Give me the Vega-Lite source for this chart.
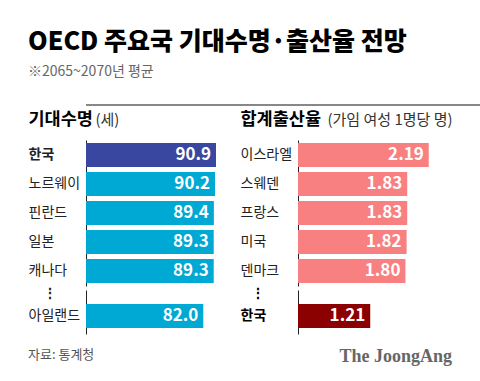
{
  "$schema": "https://vega.github.io/schema/vega-lite/v6.json",
  "background": "white",
  "padding": {"left": 28, "top": 30, "right": 10, "bottom": 10},
  "config": {
    "font": "Noto Sans CJK KR",
    "view": {"stroke": null},
    "axis": {"labelFont": "Noto Sans CJK KR", "titleFont": "Noto Sans CJK KR"}
  },
  "title": {
    "text": "OECD 주요국 기대수명·출산율 전망",
    "subtitle": "※2065~2070년 평균",
    "anchor": "start",
    "frame": "bounds",
    "fontSize": 25,
    "fontWeight": 900,
    "color": "#000000",
    "subtitleFontSize": 14,
    "subtitleColor": "#666666",
    "subtitlePadding": 10,
    "offset": 25
  },
  "datasets": {
    "life": [
      {"country": "한국", "value": 90.9},
      {"country": "노르웨이", "value": 90.2},
      {"country": "핀란드", "value": 89.4},
      {"country": "일본", "value": 89.3},
      {"country": "캐나다", "value": 89.3}
    ],
    "lifeOther": [
      {"country": "아일랜드", "value": 82.0}
    ],
    "fert": [
      {"country": "이스라엘", "value": 2.19},
      {"country": "스웨덴", "value": 1.83},
      {"country": "프랑스", "value": 1.83},
      {"country": "미국", "value": 1.82},
      {"country": "덴마크", "value": 1.80}
    ],
    "fertOther": [
      {"country": "한국", "value": 1.21}
    ],
    "line": [{"a": 0, "b": 1}]
  },
  "spacing": 4,
  "vconcat": [
    {
      "data": {"name": "line"},
      "width": 421,
      "height": 1,
      "mark": {"type": "rule", "color": "#111111", "strokeWidth": 1},
      "encoding": {
        "x": {"field": "a", "type": "quantitative", "scale": {"domain": [0, 1]}, "axis": null},
        "x2": {"field": "b"},
        "y": {"datum": 0, "type": "quantitative", "scale": {"domain": [0, 1]}, "axis": null}
      }
    },
    {
      "spacing": 24,
      "hconcat": [
        {
          "spacing": 0,
          "vconcat": [
            {
              "data": {"name": "life"},
              "width": 130,
              "height": 146,
              "encoding": {
                "y": {
                  "field": "country", "type": "nominal", "sort": null,
                  "scale": {"paddingInner": 0.17, "paddingOuter": 0.1},
                  "axis": {
                    "title": "기대수명", "titleAngle": 0, "titleAlign": "left", "titleBaseline": "alphabetic",
                    "titleX": -58, "titleY": -16, "titleFontSize": 17.5, "titleFontWeight": "bold", "titleColor": "#000000",
                    "labelAlign": "left", "labelPadding": 58, "labelFontSize": 14, "labelColor": "#222222",
                    "labelFontWeight": {"condition": {"test": "datum.value === '한국'", "value": "bold"}, "value": "normal"},
                    "ticks": false, "domainColor": "#222222", "domainWidth": 1, "labelBaseline": "middle"
                  }
                },
                "x": {
                  "field": "value", "type": "quantitative",
                  "scale": {"domain": [0, 90.9], "nice": false},
                  "axis": {
                    "orient": "top", "title": "(세)", "labels": false, "ticks": false, "domain": false, "grid": false,
                    "titleX": 9, "titleY": -16, "titleAlign": "left", "titleBaseline": "alphabetic",
                    "titleFontSize": 15, "titleFontWeight": "normal", "titleColor": "#333333"
                  }
                }
              },
              "layer": [
                {"mark": {"type": "bar", "height": 24},
                 "encoding": {"color": {"condition": {"test": "datum.country === '한국'", "value": "#3a47a0"}, "value": "#00a8d4"}}},
                {"mark": {"type": "text", "align": "right", "dx": -5, "color": "white", "fontSize": 17, "fontWeight": "bold", "baseline": "middle"},
                 "encoding": {"text": {"field": "value", "type": "quantitative", "format": ".1f"}}}
              ]
            },
            {
              "data": {"name": "lifeOther"},
              "width": 130,
              "height": 44,
              "title": {"text": "자료: 통계청", "orient": "bottom", "anchor": "start", "frame": "bounds", "fontSize": 13, "fontWeight": "normal", "color": "#555555", "offset": 15},
              "encoding": {
                "y": {
                  "field": "country", "type": "nominal",
                  "scale": {"domain": ["gap", "아일랜드"], "paddingInner": 0.6, "paddingOuter": 0.32, "align": 0},
                  "axis": {
                    "title": null, "labelAlign": "left", "labelFontSize": 14, "labelColor": "#222222",
                    "labelPadding": {"condition": {"test": "datum.value === 'gap'", "value": 44}, "value": 58},
                    "labelFontWeight": {"condition": {"test": "datum.value === 'gap'", "value": "bold"}, "value": "normal"},
                    "labelExpr": "datum.value === 'gap' ? '⋮' : datum.value",
                    "ticks": false, "domainColor": "#222222", "domainWidth": 1, "labelBaseline": "middle"
                  }
                },
                "x": {"field": "value", "type": "quantitative", "scale": {"domain": [0, 90.9], "nice": false}, "axis": null}
              },
              "layer": [
                {"mark": {"type": "bar", "height": 24, "color": "#00a8d4"}},
                {"mark": {"type": "text", "align": "right", "dx": -5, "color": "white", "fontSize": 17, "fontWeight": "bold", "baseline": "middle"},
                 "encoding": {"text": {"field": "value", "type": "quantitative", "format": ".1f"}}}
              ]
            }
          ]
        },
        {
          "spacing": 0,
          "vconcat": [
            {
              "data": {"name": "fert"},
              "width": 154,
              "height": 146,
              "encoding": {
                "y": {
                  "field": "country", "type": "nominal", "sort": null,
                  "scale": {"paddingInner": 0.17, "paddingOuter": 0.1},
                  "axis": {
                    "title": "합계출산율", "titleAngle": 0, "titleAlign": "left", "titleBaseline": "alphabetic",
                    "titleX": -58, "titleY": -16, "titleFontSize": 17.5, "titleFontWeight": "bold", "titleColor": "#000000",
                    "labelAlign": "left", "labelPadding": 58, "labelFontSize": 14, "labelColor": "#222222",
                    "ticks": false, "domainColor": "#222222", "domainWidth": 1, "labelBaseline": "middle"
                  }
                },
                "x": {
                  "field": "value", "type": "quantitative",
                  "scale": {"domain": [0, 2.58], "nice": false},
                  "axis": {
                    "orient": "top", "title": "(가임 여성 1명당 명)", "labels": false, "ticks": false, "domain": false, "grid": false,
                    "titleX": 29, "titleY": -16, "titleAlign": "left", "titleBaseline": "alphabetic",
                    "titleFontSize": 15, "titleFontWeight": "normal", "titleColor": "#333333"
                  }
                }
              },
              "layer": [
                {"mark": {"type": "bar", "height": 24, "color": "#f88080"}},
                {"mark": {"type": "text", "align": "right", "dx": -5, "color": "white", "fontSize": 17, "fontWeight": "bold", "baseline": "middle"},
                 "encoding": {"text": {"field": "value", "type": "quantitative", "format": ".2f"}}}
              ]
            },
            {
              "data": {"name": "fertOther"},
              "width": 154,
              "height": 44,
              "title": {"text": "The JoongAng", "orient": "bottom", "anchor": "end", "frame": "group", "font": "Liberation Serif", "fontSize": 18, "fontWeight": "bold", "color": "#666666", "offset": 14},
              "encoding": {
                "y": {
                  "field": "country", "type": "nominal",
                  "scale": {"domain": ["gap", "한국"], "paddingInner": 0.6, "paddingOuter": 0.32, "align": 0},
                  "axis": {
                    "title": null, "labelAlign": "left", "labelFontSize": 14, "labelColor": "#000000",
                    "labelPadding": {"condition": {"test": "datum.value === 'gap'", "value": 48}, "value": 58},
                    "labelFontWeight": "bold",
                    "labelExpr": "datum.value === 'gap' ? '⋮' : datum.value",
                    "ticks": false, "domainColor": "#222222", "domainWidth": 1, "labelBaseline": "middle"
                  }
                },
                "x": {"field": "value", "type": "quantitative", "scale": {"domain": [0, 2.58], "nice": false}, "axis": null}
              },
              "layer": [
                {"mark": {"type": "bar", "height": 24, "color": "#8b0000"}},
                {"mark": {"type": "text", "align": "right", "dx": -5, "color": "white", "fontSize": 17, "fontWeight": "bold", "baseline": "middle"},
                 "encoding": {"text": {"field": "value", "type": "quantitative", "format": ".2f"}}}
              ]
            }
          ]
        }
      ]
    }
  ]
}
